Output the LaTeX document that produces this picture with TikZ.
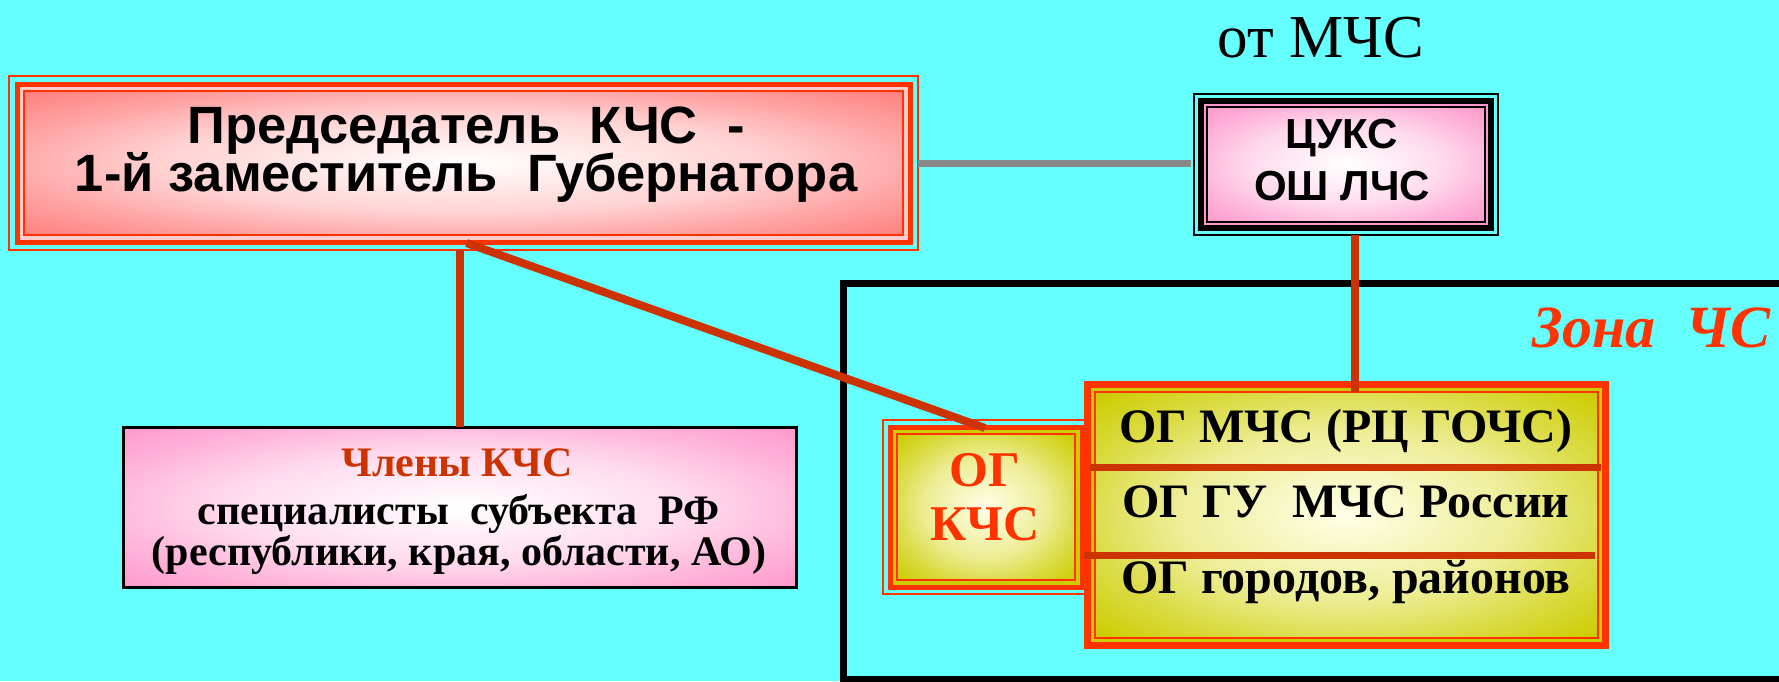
\documentclass[tikz,border=0pt]{standalone}
\usepackage{fontspec}
\setmainfont{Liberation Serif}
\newfontfamily\arialf{Liberation Sans}
\definecolor{fon}{HTML}{66FFFF}
\definecolor{krasn}{HTML}{FF3300}
\definecolor{liniya}{HTML}{CC3300}
\definecolor{rozov}{HTML}{FF99CC}
\definecolor{losos}{HTML}{FF8080}
\definecolor{zhelt}{HTML}{CCCC00}
\definecolor{svetl}{HTML}{FFFFE8}
\definecolor{sery}{HTML}{888888}
\pgfdeclareradialshading{zalivkrasn}{\pgfpoint{0bp}{0bp}}{color(0bp)=(white); color(17bp)=(losos!35!white); color(26bp)=(losos!70!white); color(35bp)=(losos); color(50bp)=(losos)}
\pgfdeclareradialshading{zalivroz}{\pgfpoint{0bp}{0bp}}{color(0bp)=(white); color(17bp)=(rozov!35!white); color(26bp)=(rozov!70!white); color(35bp)=(rozov); color(50bp)=(rozov)}
\pgfdeclareradialshading{zalivzhelt}{\pgfpoint{0bp}{0bp}}{color(0bp)=(svetl); color(17bp)=(zhelt!35!svetl); color(26bp)=(zhelt!70!svetl); color(35bp)=(zhelt); color(50bp)=(zhelt)}
\tikzset{
	mesto/.style 2 args={minimum width=#1, minimum height=#2, inner sep=0, outer sep=0},
	svyaz/.style={liniya, line width=8},
	tonk/.style={line width=2},
	shrift/.style={font=\bfseries\fontsize{#1}{#1}\selectfont, anchor=base, inner sep=0},
	grotesk/.style={font=\arialf\bfseries\fontsize{#1}{#1}\selectfont, anchor=base, inner sep=0},
}
\begin{document}
\begin{tikzpicture}[x=1pt,y=-1pt]
				\fill [fon] (0,0) rectangle (1779,681);
				\useasboundingbox (0,0) rectangle (1779,681);
				% zona ChS
				\draw [line width=7] (1790,283) -- (843.5,283) -- (843.5,679) -- (1790,679);
				% predsedatel
				\node [mesto={879}{144}] (pred) at (463.5,163) {};
				\draw [krasn, tonk] ([shift={(-15,15)}]pred.south west) rectangle ([shift={(15,-15)}]pred.north east);
				\draw [krasn, line width=5, fill=losos!40] ([shift={(-7,7)}]pred.south west) rectangle ([shift={(7,-7)}]pred.north east);
				\shadedraw [draw=krasn, tonk, shading=zalivkrasn] (pred.south west) rectangle (pred.north east);
				% TsUKS
				\node [mesto={278}{115}] (tsuks) at (1346,164.5) {};
				\draw [tonk] ([shift={(-13,13)}]tsuks.south west) rectangle ([shift={(13,-13)}]tsuks.north east);
				\draw [line width=6, fill=rozov] ([shift={(-6,6)}]tsuks.south west) rectangle ([shift={(6,-6)}]tsuks.north east);
				\shadedraw [draw=black, tonk, shading=zalivroz] (tsuks.south west) rectangle (tsuks.north east);
				% chleny
				\node [mesto={673}{160}, draw, line width=3, shading=zalivroz] (chleny) at (459.5,507) {};
				% OG KChS
				\node [mesto={178}{146}] (ogk) at (986,507) {};
				\draw [krasn, tonk] ([shift={(-14,14)}]ogk.south west) rectangle ([shift={(14,-14)}]ogk.north east);
				\draw [krasn, line width=5, fill=zhelt] ([shift={(-7,7)}]ogk.south west) rectangle ([shift={(7,-7)}]ogk.north east);
				\shadedraw [draw=krasn, tonk, shading=zalivzhelt] (ogk.south west) rectangle (ogk.north east);
				% OG MChS
				\node [mesto={503}{246}] (og) at (1346.5,515) {};
				\draw [krasn, line width=7, fill=zhelt] ([shift={(-7.5,7.5)}]og.south west) rectangle ([shift={(7.5,-7.5)}]og.north east);
				\shadedraw [draw=krasn, tonk, shading=zalivzhelt] (og.south west) rectangle (og.north east);
				\draw [svyaz, line width=7] ([shift={(-5,75.5)}]og.north west) -- ([shift={(3,75.5)}]og.north east);
				\draw [svyaz, line width=7] ([shift={(-11,163)}]og.north west) -- ([shift={(-3,163)}]og.north east);
				% svyazi
				\draw [sery, line width=7, shorten <=15, shorten >=16] (pred.east) -- (pred.east -| tsuks.west);
				\draw [svyaz, shorten <=15] (pred.south -| chleny.north) -- (chleny.north);
				\draw [svyaz, shorten <=13] ([xshift=9]tsuks.south) -- ([xshift=9]tsuks.south |- og.north);
				\draw [svyaz] ([xshift=3,yshift=-8]pred.south) -- ([xshift=-1,yshift=6]ogk.north);
				% teksty
				\node [font=\fontsize{61}{61}\selectfont, anchor=base] (otmchs) at (1321,57) {от МЧС};
				\node [shrift=60, krasn, anchor=base east] (zona) at (1771,347) {\itshape Зона~ ЧС};
				\node [grotesk=52.5] (pred1) at (466,143) {Председатель~ КЧС~ -};
				\node [grotesk=52.5] (pred2) at (466,191) {1-й заместитель~ Губернатора};
				\node [grotesk=42] (tsuks1) at (1342,148) {ЦУКС};
				\node [grotesk=42] (tsuks2) at (1342,200) {ОШ ЛЧС};
				\node [shrift=42, liniya] (chl1) at (457,476) {Члены КЧС};
				\node [shrift=42, font=\bfseries\fontsize{42}{37}\selectfont, align=center] (chl2) at (459,565) {специалисты~ субъекта~ РФ\\(республики, края, области, АО)};
				\node [shrift=50, krasn] (ogk1) at (985,486) {ОГ};
				\node [shrift=50, krasn] (ogk2) at (985,540) {КЧС};
				\node [shrift=48] (og1) at (1346,442) {ОГ МЧС (РЦ ГОЧС)};
				\node [shrift=48] (og2) at (1346,517) {ОГ ГУ~ МЧС России};
				\node [shrift=48] (og3) at (1346,593) {ОГ городов, районов};
			\end{tikzpicture}
\end{document}
